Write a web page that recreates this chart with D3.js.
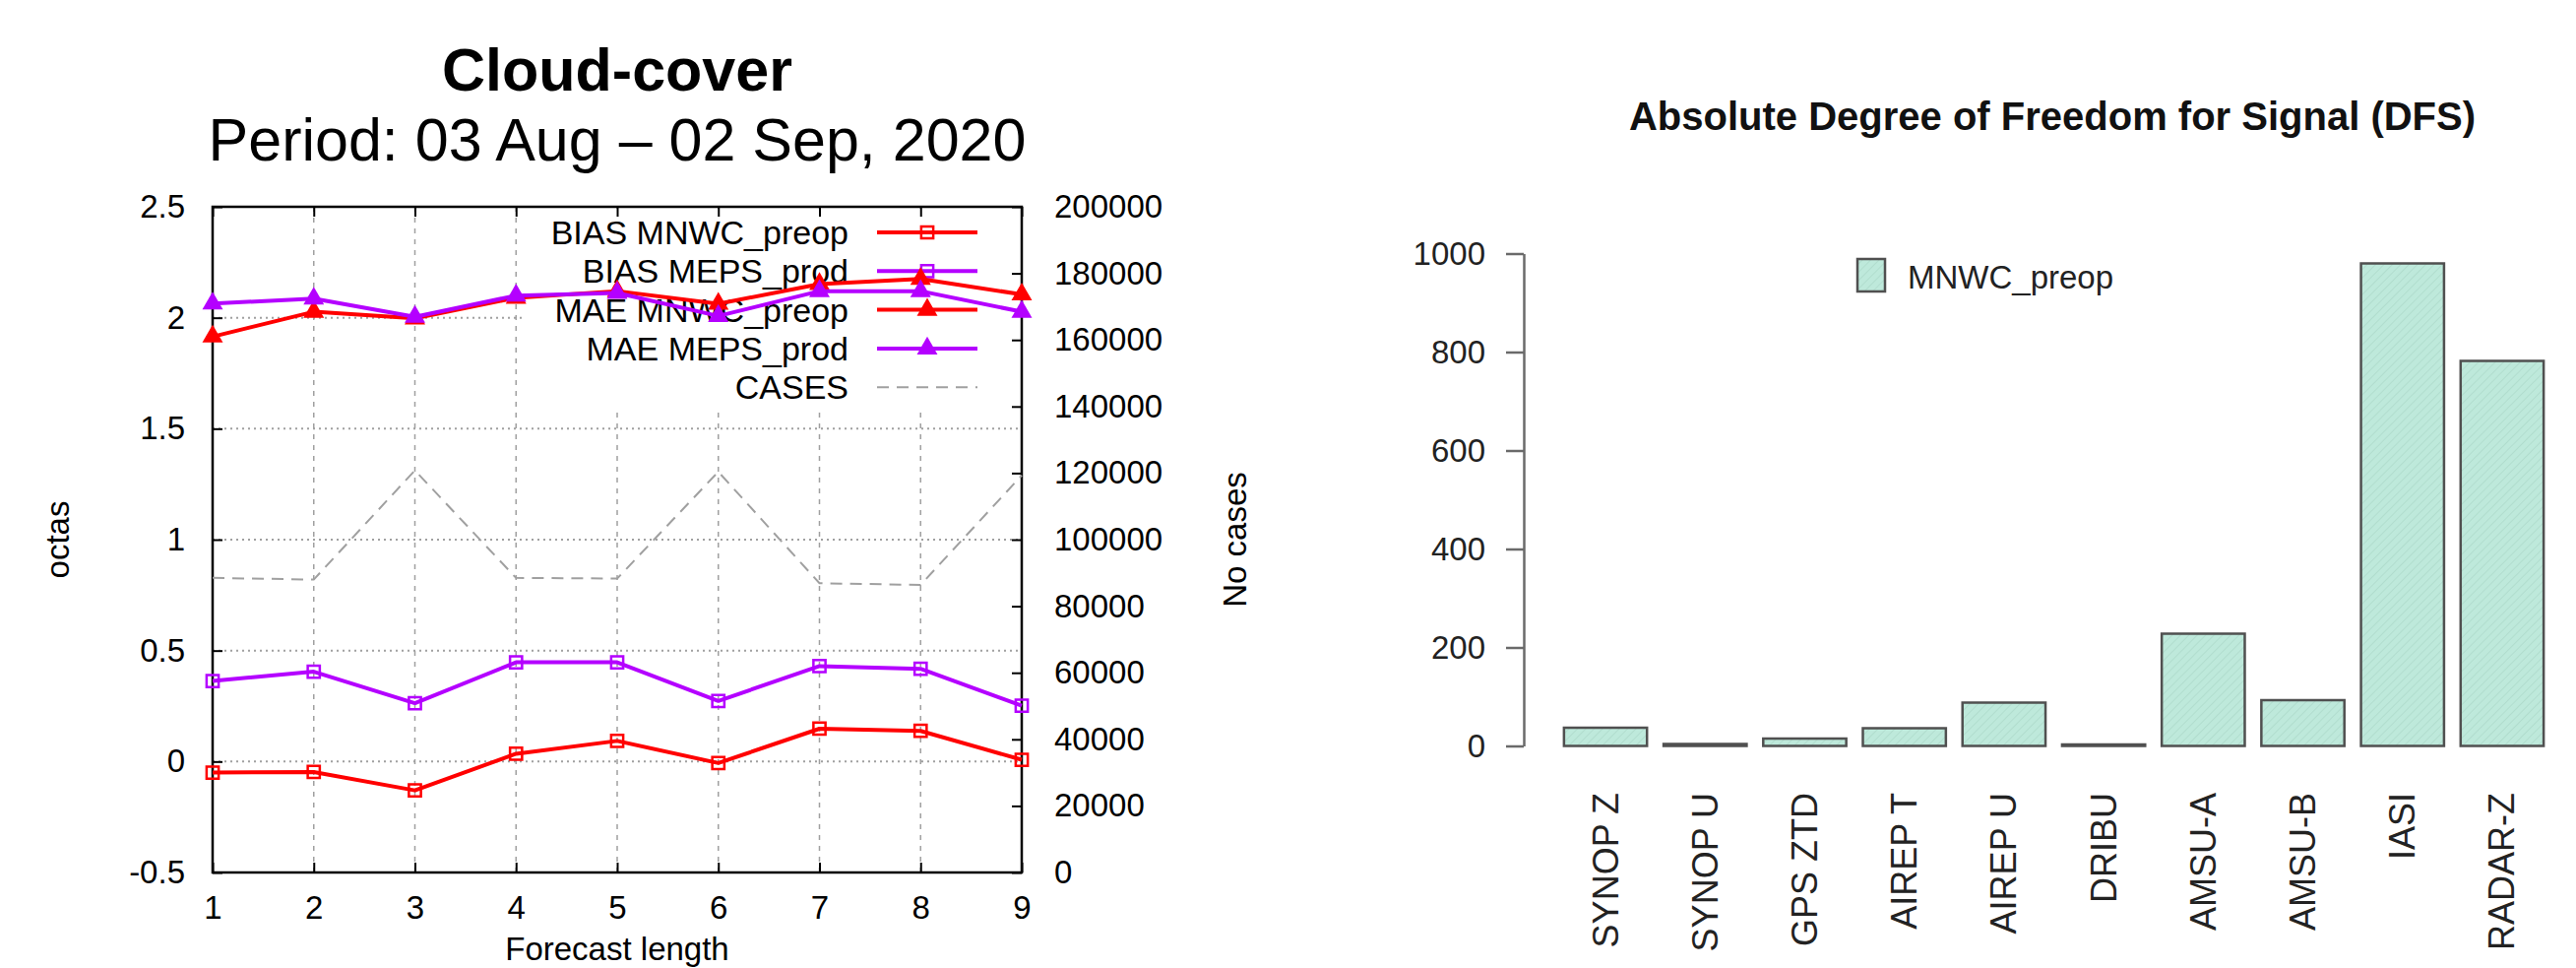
<!DOCTYPE html>
<html>
<head>
<meta charset="utf-8">
<script src="https://d3js.org/d3.v7.min.js"></script>
<style>
  html, body { margin: 0; padding: 0; background: #fff; }
  svg { display: block; }
</style>
</head>
<body>
<svg id="chart" width="2617" height="983"></svg>
<script>
// ---------- Data: left chart (gnuplot style) ----------
const forecastLength = [1, 2, 3, 4, 5, 6, 7, 8, 9];
const biasMNWC = [-0.05, -0.047, -0.13, 0.035, 0.093, -0.007, 0.148, 0.138, 0.008];
const biasMEPS = [0.363, 0.405, 0.263, 0.447, 0.447, 0.273, 0.43, 0.418, 0.252];
const maeMNWC  = [1.915, 2.027, 1.997, 2.09, 2.12, 2.063, 2.152, 2.175, 2.105];
const maeMEPS  = [2.064, 2.086, 2.004, 2.10, 2.112, 2.008, 2.12, 2.12, 2.027];
const cases    = [88500, 88000, 120800, 88500, 88300, 120400, 86900, 86400, 119300];
const leftTicks  = [-0.5, 0, 0.5, 1, 1.5, 2, 2.5];
const rightTicks = [0, 20000, 40000, 60000, 80000, 100000, 120000, 140000, 160000, 180000, 200000];
const legendLabels = ["BIAS MNWC_preop", "BIAS MEPS_prod", "MAE MNWC_preop", "MAE MEPS_prod", "CASES"];

// ---------- Data: right chart (R barplot style) ----------
const obsTypes = ["SYNOP Z", "SYNOP U", "GPS ZTD", "AIREP T", "AIREP U", "DRIBU", "AMSU-A", "AMSU-B", "IASI", "RADAR-Z"];
const dfsValues = [37, 4, 15, 36, 88, 3, 228, 93, 980, 782];
const dfsTicks = [0, 200, 400, 600, 800, 1000];

const svg = d3.select("#chart");
const RED = "#ff0000", PURPLE = "#b400ff", GREY = "#a0a0a0";
const FONT = "'Liberation Sans', Arial, sans-serif";
const plainFmt = d => String(d);

// ================= LEFT CHART =================
const L = { left: 216, right: 1038, top: 210, bottom: 886 };
const x = d3.scaleLinear().domain([1, 9]).range([L.left, L.right]);
const y = d3.scaleLinear().domain([-0.5, 2.5]).range([L.bottom, L.top]);
const y2 = d3.scaleLinear().domain([0, 200000]).range([L.bottom, L.top]);

const gl = svg.append("g").attr("font-family", FONT);

// titles
gl.append("text").attr("x", 627).attr("y", 92).attr("text-anchor", "middle")
  .attr("font-size", 61).attr("font-weight", "bold").text("Cloud-cover");
gl.append("text").attr("x", 627).attr("y", 163).attr("text-anchor", "middle")
  .attr("font-size", 61).text("Period: 03 Aug \u2013 02 Sep, 2020");

// grid
gl.append("g").selectAll("line").data(forecastLength).join("line")
  .attr("x1", d => x(d)).attr("x2", d => x(d)).attr("y1", L.top).attr("y2", L.bottom)
  .attr("stroke", GREY).attr("stroke-width", 1.5).attr("stroke-dasharray", "5,6");
gl.append("g").selectAll("line").data(leftTicks).join("line")
  .attr("x1", L.left).attr("x2", L.right).attr("y1", d => y(d)).attr("y2", d => y(d))
  .attr("stroke", GREY).attr("stroke-width", 2).attr("stroke-dasharray", "2,4");

// legend background (opaque key)
gl.append("rect").attr("x", 532).attr("y", L.top + 2).attr("width", L.right - 534).attr("height", 203)
  .attr("fill", "#fff");

// axes
const fs = 33;
const axL = gl.append("g").attr("transform", `translate(${L.left},0)`)
  .call(d3.axisLeft(y).tickValues(leftTicks).tickSizeInner(-10).tickSizeOuter(0).tickPadding(28).tickFormat(plainFmt));
const axR = gl.append("g").attr("transform", `translate(${L.right},0)`)
  .call(d3.axisRight(y2).tickValues(rightTicks).tickSizeInner(-10).tickSizeOuter(0).tickPadding(33).tickFormat(plainFmt));
const axB = gl.append("g").attr("transform", `translate(0,${L.bottom})`)
  .call(d3.axisBottom(x).tickValues(forecastLength).tickSizeInner(-10).tickSizeOuter(0).tickPadding(24).tickFormat(plainFmt));
const axT = gl.append("g").attr("transform", `translate(0,${L.top})`)
  .call(d3.axisTop(x).tickValues(forecastLength).tickSizeInner(-10).tickSizeOuter(0).tickFormat(""));
[axL, axR, axB, axT].forEach(a => {
  a.select(".domain").remove();
  a.selectAll("line").attr("stroke", "#000").attr("stroke-width", 2);
  a.selectAll("text").attr("font-size", fs).attr("font-family", FONT).attr("fill", "#000");
});

// frame
gl.append("rect").attr("x", L.left).attr("y", L.top).attr("width", L.right - L.left).attr("height", L.bottom - L.top)
  .attr("fill", "none").attr("stroke", "#000").attr("stroke-width", 2.5);

// axis titles
gl.append("text").attr("transform", `translate(58,548) rotate(-90)`).attr("text-anchor", "middle")
  .attr("dominant-baseline", "central").attr("font-size", fs).text("octas");
gl.append("text").attr("transform", `translate(1254,548) rotate(-90)`).attr("text-anchor", "middle")
  .attr("dominant-baseline", "central").attr("font-size", fs).text("No cases");
gl.append("text").attr("x", 627).attr("y", 975).attr("text-anchor", "middle")
  .attr("font-size", fs).text("Forecast length");

// legend
const legX = 862, sx1 = 891, sx2 = 993, sxm = 942;
const legY = i => 236 + i * 39.3;
const legStyles = [
  { c: RED, m: "square" }, { c: PURPLE, m: "square" },
  { c: RED, m: "triangle" }, { c: PURPLE, m: "triangle" },
  { c: GREY, m: "dash" }
];
const sqSym = d3.symbol(d3.symbolSquare, 150);
const triSym = d3.symbol(d3.symbolTriangle, 190);
legendLabels.forEach((lab, i) => {
  const yy = legY(i);
  gl.append("text").attr("x", legX).attr("y", yy).attr("text-anchor", "end")
    .attr("dominant-baseline", "central").attr("font-size", 34).attr("fill", "#000").text(lab);
  const st = legStyles[i];
  if (st.m === "dash") {
    gl.append("line").attr("x1", sx1).attr("x2", sx2).attr("y1", yy).attr("y2", yy)
      .attr("stroke", GREY).attr("stroke-width", 2).attr("stroke-dasharray", "12,8");
  } else {
    gl.append("line").attr("x1", sx1).attr("x2", sx2).attr("y1", yy).attr("y2", yy)
      .attr("stroke", st.c).attr("stroke-width", 4);
    if (st.m === "square") {
      gl.append("path").attr("d", sqSym()).attr("transform", `translate(${sxm},${yy})`)
        .attr("fill", "none").attr("stroke", st.c).attr("stroke-width", 2.5);
    } else {
      gl.append("path").attr("d", triSym()).attr("transform", `translate(${sxm},${yy})`)
        .attr("fill", st.c);
    }
  }
});

// series
const lineL = d3.line().x((d, i) => x(forecastLength[i])).y(d => y(d));
const lineC = d3.line().x((d, i) => x(forecastLength[i])).y(d => y2(d));

gl.append("path").datum(cases).attr("d", lineC).attr("fill", "none")
  .attr("stroke", GREY).attr("stroke-width", 2).attr("stroke-dasharray", "12,8");

const series = [
  { v: biasMNWC, c: RED, m: "square" },
  { v: biasMEPS, c: PURPLE, m: "square" },
  { v: maeMNWC, c: RED, m: "triangle" },
  { v: maeMEPS, c: PURPLE, m: "triangle" }
];
series.forEach(s => {
  gl.append("path").datum(s.v).attr("d", lineL).attr("fill", "none")
    .attr("stroke", s.c).attr("stroke-width", 4).attr("stroke-linejoin", "round");
  const pts = gl.append("g").selectAll("path").data(s.v).join("path")
    .attr("transform", (d, i) => `translate(${x(forecastLength[i])},${y(d)})`);
  if (s.m === "square") {
    pts.attr("d", sqSym()).attr("fill", "none").attr("stroke", s.c).attr("stroke-width", 2.5);
  } else {
    pts.attr("d", triSym()).attr("fill", s.c);
  }
});

// ================= RIGHT CHART =================
const defs = svg.append("defs");
const pat = defs.append("pattern").attr("id", "hatch").attr("patternUnits", "userSpaceOnUse")
  .attr("width", 6).attr("height", 6).attr("patternTransform", "rotate(45)");
pat.append("rect").attr("width", 6).attr("height", 6).attr("fill", "#bee9db");
pat.append("line").attr("x1", 0).attr("y1", 0).attr("x2", 0).attr("y2", 6)
  .attr("stroke", "#add9ca").attr("stroke-width", 1.5);

const gr = svg.append("g").attr("font-family", FONT);
const xb = d3.scaleBand().domain(obsTypes).range([1572, 2601]).paddingInner(1 / 6).paddingOuter(1 / 6);
const yb = d3.scaleLinear().domain([0, 1000]).range([757.5, 257.5]);

gr.append("text").attr("x", 2085).attr("y", 132).attr("text-anchor", "middle")
  .attr("font-size", 40).attr("font-weight", "bold").attr("fill", "#111")
  .text("Absolute Degree of Freedom for Signal (DFS)");

const ayb = gr.append("g").attr("transform", "translate(1548,0)")
  .call(d3.axisLeft(yb).tickValues(dfsTicks).tickSize(18).tickSizeOuter(0).tickPadding(21).tickFormat(plainFmt));
ayb.select(".domain").attr("stroke", "#6a6a6a").attr("stroke-width", 2.5);
ayb.selectAll("line").attr("stroke", "#6a6a6a").attr("stroke-width", 2.5);
ayb.selectAll("text").attr("font-size", 33).attr("font-family", FONT).attr("fill", "#222");

gr.append("g").selectAll("rect").data(dfsValues).join("rect")
  .attr("x", (d, i) => xb(obsTypes[i]))
  .attr("width", xb.bandwidth())
  .attr("y", d => yb(d))
  .attr("height", d => yb(0) - yb(d))
  .attr("fill", "url(#hatch)")
  .attr("stroke", "#505050").attr("stroke-width", 2.5);

gr.append("g").selectAll("text").data(obsTypes).join("text")
  .attr("transform", d => `translate(${xb(d) + xb.bandwidth() / 2},805) rotate(-90)`)
  .attr("text-anchor", "end").attr("dominant-baseline", "central")
  .attr("font-size", 36).attr("fill", "#222").text(d => d);

// legend
gr.append("rect").attr("x", 1887).attr("y", 263).attr("width", 28).attr("height", 33)
  .attr("fill", "url(#hatch)").attr("stroke", "#505050").attr("stroke-width", 2.5);
gr.append("text").attr("x", 1938).attr("y", 281).attr("dominant-baseline", "central")
  .attr("font-size", 33).attr("fill", "#222").text("MNWC_preop");
</script>
</body>
</html>
